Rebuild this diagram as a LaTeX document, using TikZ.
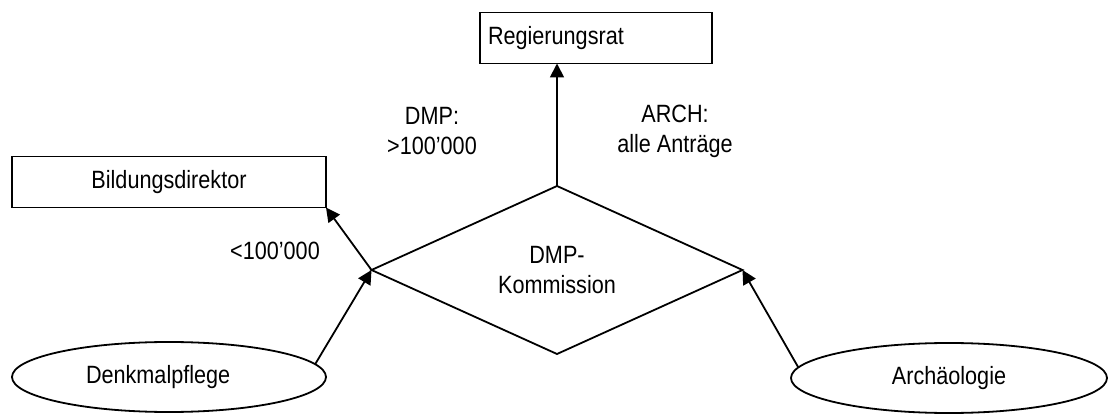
\documentclass[tikz,border=0pt]{standalone}
\usepackage{fontspec}
\setmainfont{Liberation Sans}[FakeStretch=0.865]
\usetikzlibrary{shapes.geometric,arrows.meta}

\begin{document}
\begin{tikzpicture}[x=1pt,y=-1pt,
	every node/.style={font=\fontsize{25}{30}\selectfont},
	amt/.style={draw,line width=1.8pt,rectangle,minimum height=51pt,inner sep=0pt,outer sep=0pt},
	stelle/.style={draw,line width=1.8pt,ellipse,minimum height=70pt,inner sep=0pt,outer sep=0pt},
	pfeil/.style={line width=1.8pt,-{Triangle[length=14pt,width=14pt]}}]
						\useasboundingbox (0,0) rectangle (1112,414);
						\node[amt,minimum width=232pt,text width=216pt,inner xsep=8pt,align=left] (reg) at (596,38) {Regierungsrat};
						\node[amt,minimum width=314pt] (bild) at (169,182) {Bildungsdirektor};
						\node[draw,line width=1.8pt,diamond,aspect=2.2,minimum width=371pt,minimum height=168pt,inner sep=0pt,outer sep=0pt,align=center] (komm) at (557,270) {DMP-\\Kommission};
						\node[stelle,minimum width=314pt,text width=166pt,align=left] (denk) at (169,377) {Denkmalpflege};
						\node[stelle,minimum width=316pt] (arch) at (949,378) {Archäologie};
						\node[align=center] (dmp) at (432,131) {DMP:\\>100’000};
						\node[align=center] (alle) at (675,131) {ARCH:\\alle Anträge};
						\node (klein) at (275,251) {<100’000};
						\draw[pfeil] (denk.5) -- (komm.west);
						\draw[pfeil] (arch.176) -- (komm.east);
						\draw[pfeil] (komm.west) -- (bild.south east);
						\draw[pfeil] (komm.north) -- (reg.south -| komm.north);
					\end{tikzpicture}
\end{document}
